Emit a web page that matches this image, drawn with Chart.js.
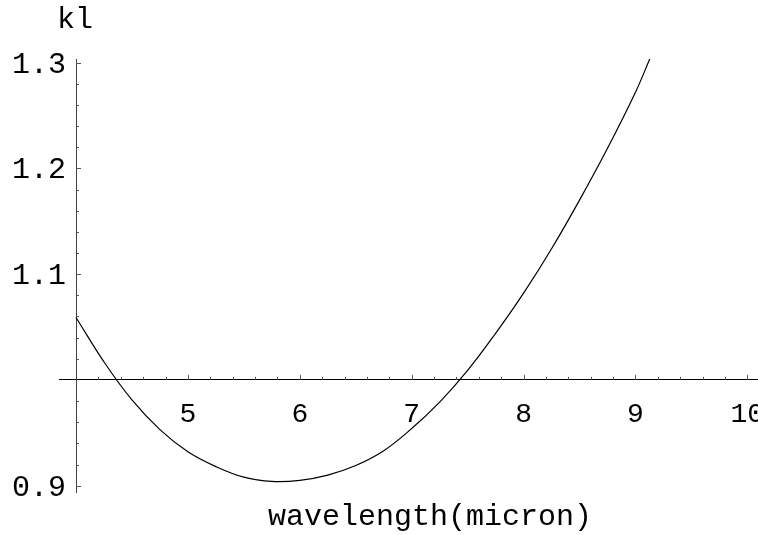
<!DOCTYPE html>
<html>
<head>
<meta charset="utf-8">
<script src="https://cdn.jsdelivr.net/npm/chart.js@4"></script>
<style>
  html, body { margin: 0; padding: 0; background: #fff; }
  canvas { display: block; }
</style>
</head>
<body>
<canvas id="kl-chart" width="758" height="535"></canvas>
<script>
// kl against wavelength, sampled along the curve
const wavelength = [4.0, 4.25, 4.5, 4.75, 5.0, 5.25, 5.5, 5.75, 6.0, 6.25, 6.5, 6.75, 7.0, 7.25, 7.5, 7.75, 8.0, 8.25, 8.5, 8.75, 9.0, 9.13];
const kl = [1.059, 1.017, 0.981, 0.953, 0.932, 0.918, 0.908, 0.904, 0.905, 0.910, 0.919, 0.933, 0.954, 0.979, 1.009, 1.044, 1.082, 1.124, 1.170, 1.219, 1.272, 1.304];

// labelled ticks on each axis
const xTickValues = [5, 6, 7, 8, 9, 10];
const yTickValues = [0.9, 1.1, 1.2, 1.3];

const labelFont = "'Liberation Mono', 'DejaVu Sans Mono', monospace";

// small tick marks drawn inward from the axes, Mathematica style,
// plus the y labels and the axis captions
const axisTicks = {
  id: "axisTicks",
  afterDraw(chart) {
    const ctx = chart.ctx;
    const xs = chart.scales.x;
    const ys = chart.scales.y;
    const x0 = xs.getPixelForValue(4);
    const y0 = ys.getPixelForValue(1);
    ctx.save();
    ctx.strokeStyle = "#555";
    ctx.lineWidth = 1;
    ctx.beginPath();
    for (let i = 1; i <= 30; i++) {
      const v = 4 + i * 0.2;
      const px = Math.round(xs.getPixelForValue(v)) + 0.5;
      if (px > chart.chartArea.right) break;
      const len = i % 5 === 0 ? 5 : 3;
      ctx.moveTo(px, y0);
      ctx.lineTo(px, y0 - len);
    }
    for (let i = -5; i <= 15; i++) {
      if (i === 0) continue;
      const v = 1 + i * 0.02;
      const py = Math.round(ys.getPixelForValue(v)) + 0.5;
      const len = i % 5 === 0 ? 5 : 3;
      ctx.moveTo(x0, py);
      ctx.lineTo(x0 + len, py);
    }
    ctx.stroke();

    ctx.fillStyle = "#000";
    ctx.font = "30px " + labelFont;

    // y tick labels, set back from the axis
    ctx.textAlign = "right";
    ctx.textBaseline = "middle";
    yTickValues.forEach((v) => {
      ctx.fillText(v.toFixed(1), x0 - 10, ys.getPixelForValue(v) + 2);
    });

    // axis captions
    ctx.textAlign = "center";
    ctx.textBaseline = "alphabetic";
    ctx.fillText("kl", 75, 28);
    ctx.fillText("wavelength(micron)", 430, 525);
    ctx.restore();
  }
};

function dropPadding(scale) {
  scale.paddingLeft = 0;
  scale.paddingRight = 0;
  scale.paddingTop = 0;
  scale.paddingBottom = 0;
}

const ctx = document.getElementById("kl-chart").getContext("2d");

new Chart(ctx, {
  type: "line",
  data: {
    datasets: [
      {
        data: wavelength.map((w, i) => ({ x: w, y: kl[i] })),
        borderColor: "#000",
        borderWidth: 1.2,
        pointRadius: 0,
        tension: 0.4,
        fill: false,
      },
    ],
  },
  options: {
    responsive: false,
    animation: false,
    layout: {
      padding: { left: 59, right: 0, top: 59, bottom: 43 },
    },
    plugins: {
      legend: { display: false },
      tooltip: { enabled: false },
    },
    scales: {
      x: {
        type: "linear",
        min: 3.848,
        max: 10.095,
        position: { y: 1 },
        afterBuildTicks: (scale) => {
          scale.ticks = xTickValues.map((v) => ({ value: v }));
        },
        afterFit: dropPadding,
        grid: { display: false },
        border: { display: true, color: "#000", width: 1 },
        ticks: {
          color: "#000",
          padding: 10,
          maxRotation: 0,
          autoSkip: false,
          font: { family: labelFont, size: 28 },
          callback: (v) => String(v),
        },
      },
      y: {
        type: "linear",
        min: 0.894,
        max: 1.3034,
        position: { x: 4 },
        afterFit: dropPadding,
        grid: { display: false },
        border: { display: true, color: "#444", width: 1 },
        ticks: { display: false },
      },
    },
  },
  plugins: [axisTicks],
});
</script>
</body>
</html>
